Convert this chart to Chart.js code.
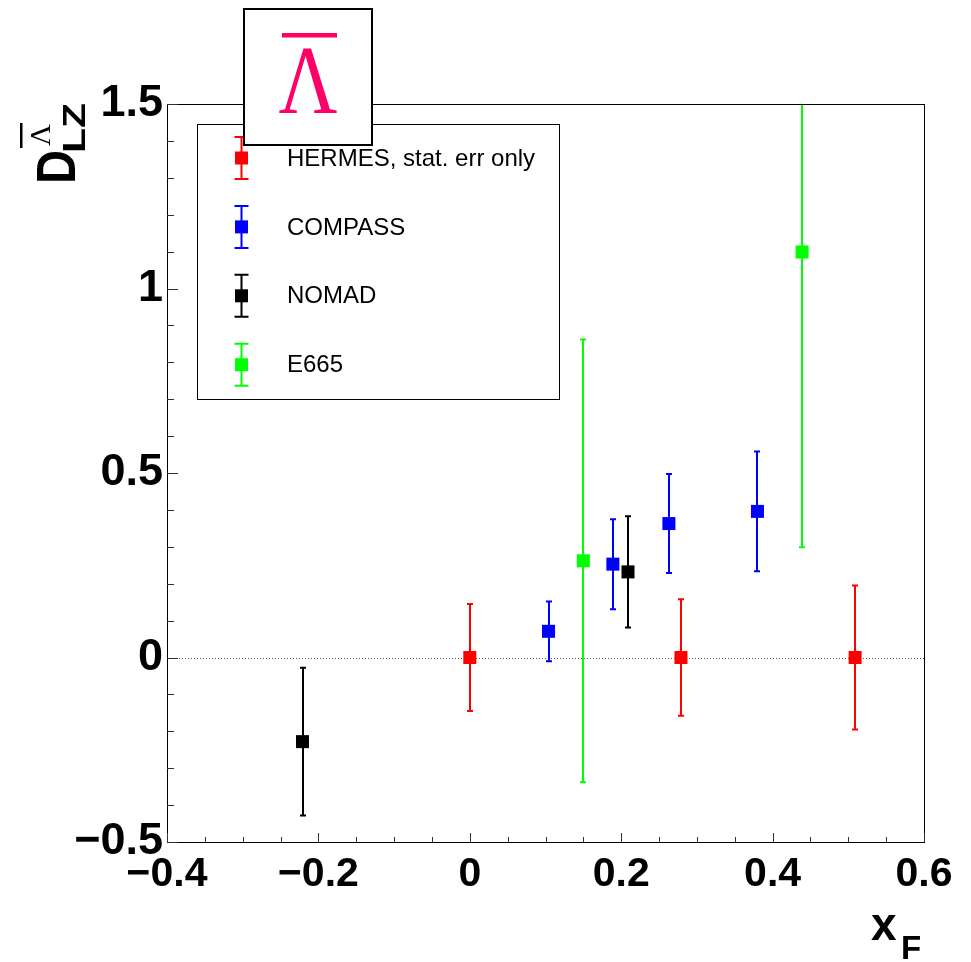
<!DOCTYPE html>
<html>
<head>
<meta charset="utf-8">
<script src="https://cdn.jsdelivr.net/npm/chart.js@4.4.1/dist/chart.umd.min.js"></script>
<style>
  html, body { margin: 0; padding: 0; background: #fff; }
</style>
</head>
<body>
<canvas id="myChart" width="971" height="962"></canvas>
<script>
// values
const hermesX = [0.0, 0.279, 0.509]
const hermesY = [0.0, 0.0, 0.0]
const hermesErr = [0.145, 0.158, 0.195]

const compassX = [0.104, 0.189, 0.263, 0.380]
const compassY = [0.071, 0.253, 0.363, 0.396]
const compassErr = [0.081, 0.122, 0.134, 0.162]

const nomadX = [-0.221, 0.209]
const nomadY = [-0.228, 0.232]
const nomadErr = [0.200, 0.151]

const e665X = [0.150, 0.439]
const e665Y = [0.262, 1.099]
const e665Err = [0.600, 0.800]

const xTicks = [-0.4, -0.2, 0, 0.2, 0.4, 0.6]
const xTickLabels = ['\u22120.4', '\u22120.2', '0', '0.2', '0.4', '0.6']
const yTicks = [-0.5, 0, 0.5, 1, 1.5]
const yTickLabels = ['\u22120.5', '0', '0.5', '1', '1.5']

const toPoints = (xs, ys, errs) => xs.map((x, i) => ({ x: x, y: ys[i], err: errs[i] }))

const makeSet = (label, color, xs, ys, errs) => ({
  label: label,
  data: toPoints(xs, ys, errs),
  backgroundColor: color,
  borderColor: color,
  pointStyle: 'rect',
  pointRadius: 9.2,
  pointHoverRadius: 9.2,
  pointBorderWidth: 0,
  showLine: false
})

const sansBold = (size) => ({ family: "'Liberation Sans', Arial, sans-serif", weight: 'bold', size: size })

// ROOT-like decorations: frame, inward ticks, error bars, legend, titles
const rootStyle = {
  id: 'rootStyle',
  beforeDatasetsDraw(chart) {
    const { ctx, chartArea: a, scales: { x, y } } = chart
    ctx.save()
    // dotted zero line
    const y0 = Math.round(y.getPixelForValue(0)) + 0.5
    ctx.strokeStyle = '#555'
    ctx.lineWidth = 1
    ctx.setLineDash([1, 2])
    ctx.beginPath()
    ctx.moveTo(a.left, y0)
    ctx.lineTo(a.right, y0)
    ctx.stroke()
    ctx.setLineDash([])

    // error bars, clipped to the frame
    ctx.beginPath()
    ctx.rect(a.left, a.top, a.right - a.left, a.bottom - a.top)
    ctx.clip()
    chart.data.datasets.forEach((ds) => {
      ctx.strokeStyle = ds.borderColor
      ctx.lineWidth = 2
      ds.data.forEach((p) => {
        const px = Math.round(x.getPixelForValue(p.x))
        const top = y.getPixelForValue(p.y + p.err)
        const bot = y.getPixelForValue(p.y - p.err)
        ctx.beginPath()
        ctx.moveTo(px, top)
        ctx.lineTo(px, bot)
        ctx.moveTo(px - 3, top)
        ctx.lineTo(px + 3, top)
        ctx.moveTo(px - 3, bot)
        ctx.lineTo(px + 3, bot)
        ctx.stroke()
      })
    })
    ctx.restore()
  },
  afterDraw(chart) {
    const { ctx, chartArea: a, scales: { x, y } } = chart
    ctx.save()

    // frame
    ctx.strokeStyle = '#000'
    ctx.lineWidth = 1
    ctx.strokeRect(Math.round(a.left) + 0.5, Math.round(a.top) + 0.5,
      Math.round(a.right - a.left), Math.round(a.bottom - a.top))

    // inward ticks
    ctx.strokeStyle = '#333'
    ctx.beginPath()
    for (let i = 0; i <= 20; i++) {
      const v = -0.4 + i * 0.05
      const px = Math.round(x.getPixelForValue(v)) + 0.5
      const len = i % 4 === 0 ? 9 : 5
      ctx.moveTo(px, a.bottom)
      ctx.lineTo(px, a.bottom - len)
    }
    for (let i = 0; i <= 20; i++) {
      const v = -0.5 + i * 0.1
      const py = Math.round(y.getPixelForValue(v)) + 0.5
      const len = i % 5 === 0 ? 11 : 7
      ctx.moveTo(a.left, py)
      ctx.lineTo(a.left + len, py)
    }
    ctx.stroke()

    // legend
    const lg = { left: 197.5, top: 124.5, w: 362, h: 275, first: 33.5, step: 68.9, mark: 241.5, text: 287 }
    ctx.fillStyle = '#fff'
    ctx.fillRect(lg.left, lg.top, lg.w, lg.h)
    ctx.strokeStyle = '#000'
    ctx.lineWidth = 1
    ctx.strokeRect(lg.left, lg.top, lg.w, lg.h)
    ctx.font = "24px 'Liberation Sans', Arial, sans-serif"
    ctx.textBaseline = 'middle'
    ctx.textAlign = 'left'
    chart.data.datasets.forEach((ds, i) => {
      const cy = lg.top + lg.first + i * lg.step
      ctx.strokeStyle = ds.borderColor
      ctx.lineWidth = 2
      ctx.beginPath()
      ctx.moveTo(lg.mark, cy - 21)
      ctx.lineTo(lg.mark, cy + 21)
      ctx.moveTo(lg.mark - 7, cy - 21)
      ctx.lineTo(lg.mark + 7, cy - 21)
      ctx.moveTo(lg.mark - 7, cy + 21)
      ctx.lineTo(lg.mark + 7, cy + 21)
      ctx.stroke()
      ctx.fillStyle = ds.backgroundColor
      ctx.fillRect(lg.mark - 6.5, cy - 6.5, 13, 13)
      ctx.fillStyle = '#000'
      ctx.fillText(ds.label, lg.text, cy + 1)
    })

    // anti-lambda box
    const bx = { left: 244, top: 9, w: 128, h: 136 }
    ctx.fillStyle = '#fff'
    ctx.fillRect(bx.left, bx.top, bx.w, bx.h)
    ctx.strokeStyle = '#000'
    ctx.lineWidth = 2
    ctx.strokeRect(bx.left, bx.top, bx.w, bx.h)
    ctx.fillStyle = '#ff0066'
    ctx.fillRect(282, 33, 55, 4.5)
    ctx.save()
    ctx.font = "98px 'Liberation Serif', 'Times New Roman', serif"
    ctx.textBaseline = 'alphabetic'
    ctx.textAlign = 'center'
    const lw = ctx.measureText('\u039B').width
    ctx.translate(308, 113)
    ctx.scale(59 / lw, 1)
    ctx.fillText('\u039B', 0, 0)
    ctx.restore()

    // x title: x_F
    ctx.fillStyle = '#000'
    ctx.textAlign = 'left'
    ctx.textBaseline = 'alphabetic'
    ctx.font = "bold 46px 'Liberation Sans', Arial, sans-serif"
    ctx.fillText('x', 871, 940)
    ctx.font = "bold 33px 'Liberation Sans', Arial, sans-serif"
    ctx.fillText('F', 901, 959)

    // y title: D with anti-lambda superscript and LZ subscript, rotated
    ctx.save()
    ctx.translate(75, 184)
    ctx.rotate(-Math.PI / 2)
    ctx.font = "bold 56px 'Liberation Sans', Arial, sans-serif"
    const dw = ctx.measureText('D').width
    ctx.save()
    ctx.scale(34 / dw, 1)
    ctx.fillText('D', 0, 0)
    ctx.restore()
    ctx.font = "30px 'Liberation Serif', 'Times New Roman', serif"
    ctx.fillText('\u039B', 38, -25)
    ctx.fillRect(36, -55, 25, 2.5)
    ctx.font = "bold 31px 'Liberation Sans', Arial, sans-serif"
    const zw = ctx.measureText('LZ').width
    ctx.save()
    ctx.translate(31, 10)
    ctx.scale(50 / zw, 1)
    ctx.fillText('LZ', 0, 0)
    ctx.restore()
    ctx.restore()

    ctx.restore()
  }
}

const ctx = document.getElementById('myChart')
const chart = new Chart(ctx, {
  type: 'scatter',
  data: {
    datasets: [
      makeSet('HERMES, stat. err only', '#ff0000', hermesX, hermesY, hermesErr),
      makeSet('COMPASS', '#0000ff', compassX, compassY, compassErr),
      makeSet('NOMAD', '#000000', nomadX, nomadY, nomadErr),
      makeSet('E665', '#00ff00', e665X, e665Y, e665Err)
    ]
  },
  options: {
    responsive: false,
    devicePixelRatio: 1,
    animation: false,
    layout: { padding: { left: 0, top: 104, right: 47, bottom: 0 } },
    plugins: {
      legend: { display: false },
      tooltip: { enabled: false }
    },
    scales: {
      x: {
        type: 'linear',
        min: -0.4,
        max: 0.6,
        afterBuildTicks: (s) => { s.ticks = xTicks.map((v) => ({ value: v })) },
        afterFit: (s) => { s.height = 120 },
        grid: { display: false, drawTicks: false },
        border: { display: false },
        ticks: {
          autoSkip: false,
          maxRotation: 0,
          padding: 8,
          color: '#000',
          font: sansBold(41),
          callback: (v) => xTickLabels[xTicks.indexOf(v)]
        }
      },
      y: {
        type: 'linear',
        min: -0.5,
        max: 1.5,
        afterBuildTicks: (s) => { s.ticks = yTicks.map((v) => ({ value: v })) },
        afterFit: (s) => { s.width = 167 },
        grid: { display: false, drawTicks: false },
        border: { display: false },
        ticks: {
          autoSkip: false,
          padding: 4,
          color: '#000',
          font: sansBold(45),
          callback: (v) => yTickLabels[yTicks.indexOf(v)]
        }
      }
    }
  },
  plugins: [rootStyle]
})
</script>
</body>
</html>
